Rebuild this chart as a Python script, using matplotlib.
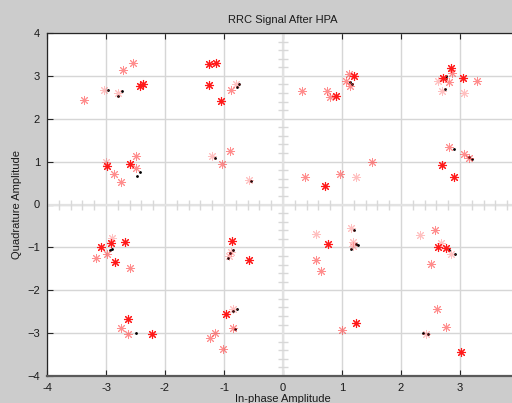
import numpy as np
import matplotlib.pyplot as plt

plt.rcParams['font.family'] = ['Liberation Sans', 'DejaVu Sans']
plt.rcParams['font.size'] = 8

# symbols after the amplifier, split by how strongly they show up
strong_i = [-2.42, -2.38, -1.25, -1.14, -1.25, -1.05, -2.99, -2.59,
            0.90, 1.20, 2.72, 2.85, 3.05, 0.72, 2.70, 2.89,
            -3.09, -2.92, -2.85, -2.67, -0.86, -0.57, -2.62, -2.22, -0.97,
            0.77, 2.63, 2.77, 1.24, 3.01]
strong_q = [2.77, 2.82, 3.27, 3.31, 2.78, 2.41, 0.89, 0.95,
            2.52, 3.00, 2.94, 3.18, 2.96, 0.44, 0.91, 0.65,
            -1.00, -0.90, -1.34, -0.88, -0.85, -1.30, -2.67, -3.02, -2.56,
            -0.92, -0.99, -1.01, -2.77, -3.45]

mid_i = [-3.37, -2.72, -2.54, -0.88, -2.86, -2.75, -2.49, -2.49, -1.03, -0.89,
         0.33, 0.75, 0.80, 1.07, 1.12, 1.14, 2.81, 2.87, 3.29,
         0.37, 0.97, 1.50, 2.81, 3.07, 3.16,
         -3.17, -2.99, -2.60, -2.75, -2.62, -0.85, -1.15, -1.23, -1.02,
         0.56, 0.64, 2.58, 2.50, 1.00, 2.61, 2.76]
mid_q = [2.43, 3.14, 3.30, 2.67, 0.70, 0.52, 1.12, 0.85, 0.95, 1.24,
         2.65, 2.65, 2.50, 2.88, 3.04, 2.77, 2.85, 3.06, 2.89,
         0.63, 0.71, 0.98, 1.35, 1.17, 1.09,
         -1.24, -1.15, -1.47, -2.88, -3.01, -2.88, -2.99, -3.11, -3.37,
         -1.29, -1.54, -0.59, -1.38, -2.92, -2.44, -2.86]

faint_i = [-3.03, -2.79, -0.80, -3.00, -1.21, -0.57,
           2.62, 2.70, 3.06, 1.24,
           -2.89, -0.91, -0.88, -0.84,
           0.56, 1.15, 1.18, 1.18, 2.33, 2.68, 2.84, 2.42]
faint_q = [2.67, 2.60, 2.81, 1.00, 1.12, 0.56,
           2.88, 2.64, 2.61, 0.65,
           -0.78, -1.19, -1.11, -2.43,
           -0.68, -0.55, -0.88, -0.97, -0.72, -0.90, -1.15, -3.01]

# received samples (dots)
dot_i = [-2.96, -2.73, -2.79, -2.37, -0.75, -0.78, -2.42, -2.47, -1.15, -0.55,
         1.14, 1.17, 2.77, 2.76, 2.74, 3.16, 3.20, 2.90,
         -2.93, -2.89, -0.93, -0.89, -0.84, -0.78, -0.84, -0.82,
         1.24, 1.27, 1.16, 1.20, 2.92, 2.82, 2.45, 2.38, -2.50]
dot_q = [2.67, 2.65, 2.53, 2.80, 2.81, 2.75, 0.75, 0.67, 1.08, 0.55,
         2.85, 2.80, 2.96, 3.00, 2.70, 1.10, 1.06, 1.30,
         -1.07, -1.03, -1.25, -1.12, -1.05, -2.43, -2.49, -2.90,
         -0.91, -0.95, -1.03, -0.60, -1.15, -1.05, -3.03, -3.00, -3.00]

ticks = list(range(-4, 5))
tick_labels = ['-4', '-3', '-2', '-1', '0', '1', '2', '3', '']

fig = plt.figure(figsize=(5.12, 4.03), dpi=100, facecolor='#cccccc')
ax = fig.add_axes([47 / 512, 1 - 376 / 403, 472 / 512, 343 / 403])
ax.set_facecolor('white')
ax.set_xlim(-4, 4)
ax.set_ylim(-4, 4)

ax.set_xticks(ticks)
ax.set_xticklabels(tick_labels)
ax.set_yticks(ticks)
ax.grid(True, color='#d6d6d6', linewidth=1.0, linestyle='-')
ax.set_axisbelow(True)

# crosshair axes through the origin with small ticks every 0.2
minor = np.round(np.arange(-4, 4.01, 0.2), 1)
minor = minor[np.abs(minor - np.round(minor)) > 1e-6]
ax.axhline(0, color='#e2e2e2', linewidth=1.6, zorder=1)
ax.axvline(0, color='#e2e2e2', linewidth=1.6, zorder=1)
ax.plot(minor, np.zeros_like(minor), '|', ms=7, mew=1.0, color='#d8d8d8', zorder=1)
ax.plot(np.zeros_like(minor), minor, '_', ms=7, mew=1.0, color='#d8d8d8', zorder=1)

# asterisk markers like MATLAB's '*'
star = (8, 2, 0)
ax.plot(dot_i, dot_q, '.', color='black', ms=2, zorder=2)
ax.plot(faint_i, faint_q, ls='none', marker=star, color='#ff3030', ms=6.5, mew=0.7, alpha=0.3, zorder=3)
ax.plot(mid_i, mid_q, ls='none', marker=star, color='#ff3030', ms=6.5, mew=0.7, alpha=0.55, zorder=3)
ax.plot(strong_i, strong_q, ls='none', marker=star, color='#ff1a1a', ms=6.5, mew=0.8, zorder=4)

for side in ['left', 'top']:
    ax.spines[side].set_color('#262626')
    ax.spines[side].set_linewidth(0.9)
ax.spines['bottom'].set_color('#5a5a5a')
ax.spines['bottom'].set_linewidth(1.6)
ax.tick_params(direction='in', length=4, width=0.8, color='#262626',
               top=True, right=True, pad=5, labelcolor='#1a1a1a')

ax.set_title('RRC Signal After HPA', fontsize=8, pad=7, color='#1a1a1a')
ax.set_xlabel('In-phase Amplitude', fontsize=8, labelpad=1, color='#1a1a1a')
ax.set_ylabel('Quadrature Amplitude', fontsize=8, labelpad=4, color='#1a1a1a')

plt.savefig('out.png', dpi=100, facecolor=fig.get_facecolor())
